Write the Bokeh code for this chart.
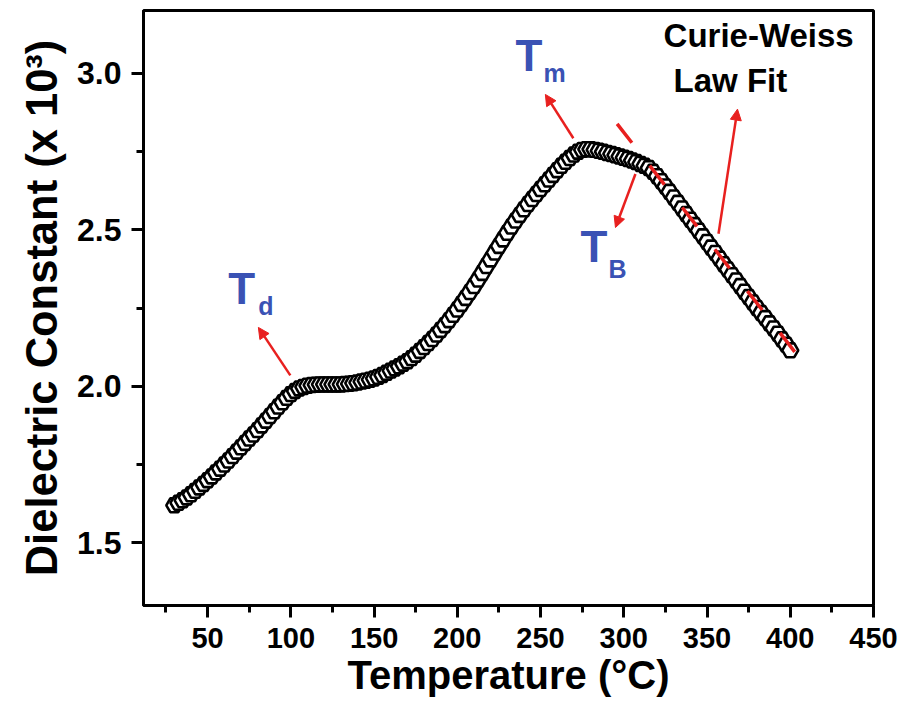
from bokeh.plotting import figure
from bokeh.models import (Range1d, FixedTicker, PrintfTickFormatter, Label, Arrow,
                          NormalHead, ColumnDataSource)
from bokeh.embed import file_html
from bokeh.resources import INLINE

# ---------------- data ----------------
temperature = [
    30.0, 32.5, 35.0, 37.5, 40.0, 42.5, 45.0, 47.5, 50.0, 52.5,
    55.0, 57.5, 60.0, 62.5, 65.0, 67.5, 70.0, 72.5, 75.0, 77.5,
    80.0, 82.5, 85.0, 87.5, 90.0, 92.5, 95.0, 97.5, 100.0, 102.5,
    105.0, 107.5, 110.0, 112.5, 115.0, 117.5, 120.0, 122.5, 125.0, 127.5,
    130.0, 132.5, 135.0, 137.5, 140.0, 142.5, 145.0, 147.5, 150.0, 152.5,
    155.0, 157.5, 160.0, 162.5, 165.0, 167.5, 170.0, 172.5, 175.0, 177.5,
    180.0, 182.5, 185.0, 187.5, 190.0, 192.5, 195.0, 197.5, 200.0, 202.5,
    205.0, 207.5, 210.0, 212.5, 215.0, 217.5, 220.0, 222.5, 225.0, 227.5,
    230.0, 232.5, 235.0, 237.5, 240.0, 242.5, 245.0, 247.5, 250.0, 252.5,
    255.0, 257.5, 260.0, 262.5, 265.0, 267.5, 270.0, 272.5, 275.0, 277.5,
    280.0, 282.5, 285.0, 287.5, 290.0, 292.5, 295.0, 297.5, 300.0, 302.5,
    305.0, 307.5, 310.0, 312.5, 315.0, 317.5, 320.0, 322.5, 325.0, 327.5,
    330.0, 332.5, 335.0, 337.5, 340.0, 342.5, 345.0, 347.5, 350.0, 352.5,
    355.0, 357.5, 360.0, 362.5, 365.0, 367.5, 370.0, 372.5, 375.0, 377.5,
    380.0, 382.5, 385.0, 387.5, 390.0, 392.5, 395.0, 397.5, 400.0,
]
dielectric = [
    1.620, 1.628, 1.636, 1.645, 1.655, 1.666, 1.677, 1.688, 1.700, 1.712,
    1.725, 1.737, 1.750, 1.763, 1.777, 1.791, 1.805, 1.819, 1.833, 1.846,
    1.860, 1.875, 1.890, 1.905, 1.920, 1.935, 1.949, 1.963, 1.975, 1.985,
    1.993, 1.998, 2.002, 2.004, 2.005, 2.006, 2.006, 2.006, 2.006, 2.006,
    2.006, 2.007, 2.008, 2.010, 2.012, 2.015, 2.018, 2.021, 2.025, 2.030,
    2.036, 2.043, 2.050, 2.057, 2.064, 2.072, 2.080, 2.090, 2.101, 2.113,
    2.125, 2.138, 2.151, 2.165, 2.180, 2.195, 2.211, 2.228, 2.245, 2.263,
    2.282, 2.301, 2.320, 2.341, 2.362, 2.384, 2.405, 2.427, 2.448, 2.469,
    2.490, 2.510, 2.529, 2.547, 2.565, 2.582, 2.598, 2.614, 2.630, 2.645,
    2.660, 2.675, 2.690, 2.704, 2.717, 2.729, 2.740, 2.749, 2.755, 2.757,
    2.757, 2.755, 2.752, 2.749, 2.745, 2.742, 2.738, 2.734, 2.730, 2.726,
    2.721, 2.716, 2.710, 2.704, 2.697, 2.685, 2.671, 2.655, 2.638, 2.621,
    2.603, 2.586, 2.568, 2.550, 2.532, 2.515, 2.497, 2.479, 2.461, 2.443,
    2.426, 2.408, 2.390, 2.373, 2.355, 2.338, 2.320, 2.302, 2.285, 2.268,
    2.250, 2.234, 2.218, 2.201, 2.185, 2.168, 2.150, 2.133, 2.115,
]
# Curie-Weiss law fit (end points of the fitted line)
fit_temperature = [296.0, 403.0]
fit_dielectric = [2.838, 2.108]

x_ticks = [50, 100, 150, 200, 250, 300, 350, 400, 450]
x_minor = [25, 75, 125, 175, 225, 275, 325, 375, 425]
y_ticks = [1.5, 2.0, 2.5, 3.0]
y_minor = [1.75, 2.25, 2.75]

RED = "#e8201f"
BLUE = "#3a52b4"
FONT = "Liberation Sans"

# ---------------- figure ----------------
p = figure(width=909, height=713, output_backend="svg", toolbar_location=None,
           x_range=Range1d(11.5, 450), y_range=Range1d(1.3, 3.2),
           min_border_left=143, min_border_right=36, min_border_top=10,
           min_border_bottom=108)
p.background_fill_color = "white"
p.border_fill_color = "white"
p.grid.visible = False
p.outline_line_color = "black"
p.outline_line_width = 3

for ax in (p.xaxis[0], p.yaxis[0]):
    ax.axis_line_width = 3
    ax.major_tick_line_width = 3
    ax.minor_tick_line_width = 3
    ax.major_tick_in = 0
    ax.minor_tick_in = 0
    ax.major_tick_out = 12
    ax.minor_tick_out = 7
    ax.major_label_text_font = FONT
    ax.major_label_text_font_style = "bold"
    ax.major_label_text_color = "black"
    ax.axis_label_text_font = FONT
    ax.axis_label_text_font_style = "bold"
    ax.axis_label_text_color = "black"

p.xaxis.major_label_text_font_size = "29px"
p.yaxis.major_label_text_font_size = "32px"
p.xaxis.axis_label_text_font_size = "40px"
p.yaxis.axis_label_text_font_size = "43.5px"
p.xaxis.ticker = FixedTicker(ticks=x_ticks, minor_ticks=x_minor)
p.yaxis.ticker = FixedTicker(ticks=y_ticks, minor_ticks=y_minor)
p.yaxis.formatter = PrintfTickFormatter(format="%.1f")
p.xaxis.major_label_standoff = 10
p.yaxis.major_label_standoff = 10
p.xaxis.axis_label = "Temperature (°C)"
p.yaxis.axis_label = "Dielectric Constant (x 10³)"
p.xaxis.axis_label_standoff = 2
p.yaxis.axis_label_standoff = 8

src = ColumnDataSource(data=dict(t=temperature, e=dielectric))
p.scatter("t", "e", source=src, marker="hex", size=16, fill_color="white",
          line_color="black", line_width=2.6)

p.line(fit_temperature, fit_dielectric, line_color=RED, line_width=3.5,
       line_dash="24 29")

# arrows
arrows = [
    (99.7, 2.035, 80.5, 2.188),
    (269.7, 2.792, 252.9, 2.932),
    (307.0, 2.678, 295.0, 2.507),
    (356.9, 2.487, 368.3, 2.885),
]
for xs, ys, xe, ye in arrows:
    p.add_layout(Arrow(end=NormalHead(size=11, fill_color=RED, line_color=RED, line_width=1),
                       x_start=xs, y_start=ys, x_end=xe, y_end=ye,
                       line_color=RED, line_width=2.5))

def lab(x, y, text, size, color):
    p.add_layout(Label(x=x, y=y, text=text, text_font=FONT, text_font_style="bold",
                       text_font_size=size, text_color=color,
                       text_baseline="alphabetic", text_align="left"))

lab(62.4, 2.312, "T", "44px", BLUE)
lab(80.5, 2.255, "d", "25px", BLUE)
lab(234.9, 3.055, "T", "44px", BLUE)
lab(251.7, 3.002, "m", "25px", BLUE)
lab(274.0, 2.446, "T", "44px", BLUE)
lab(290.8, 2.376, "B", "25px", BLUE)
lab(323.9, 3.120, "Curie-Weiss", "33px", "black")
lab(329.9, 2.977, "Law Fit", "33px", "black")

open("out.html", "w").write(file_html(p, INLINE))
